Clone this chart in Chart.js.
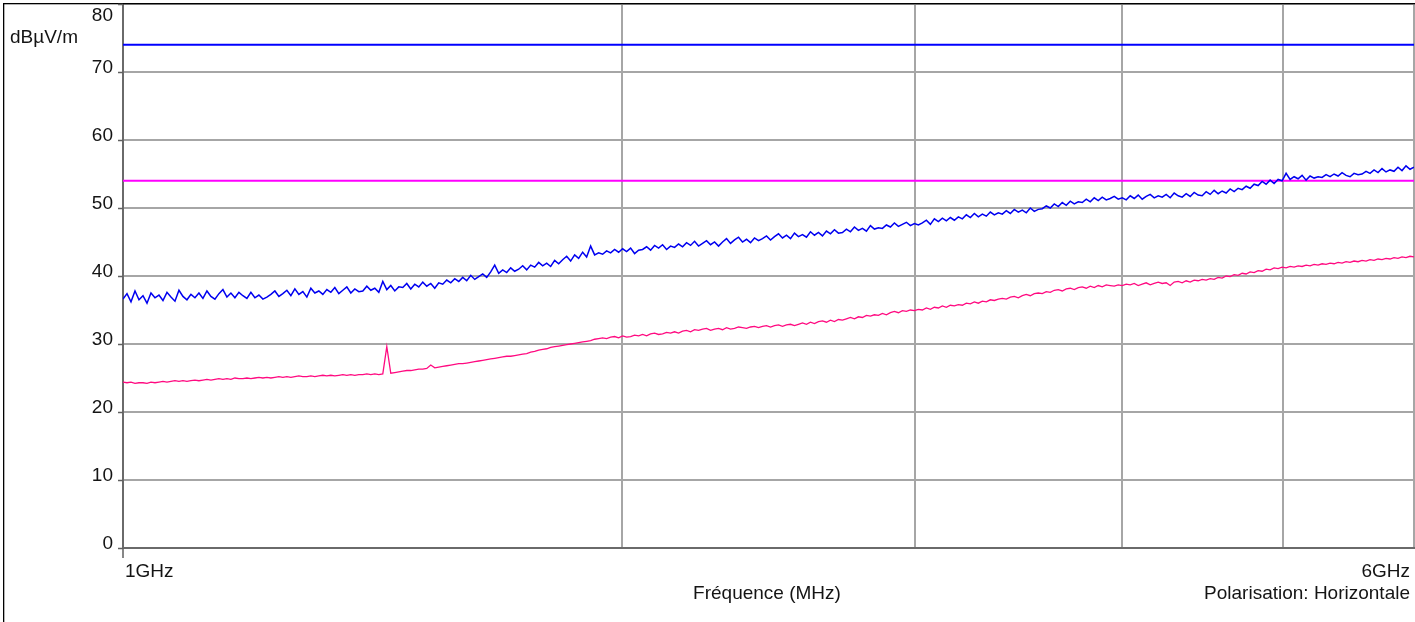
<!DOCTYPE html>
<html>
<head>
<meta charset="utf-8">
<script src="https://cdn.jsdelivr.net/npm/chart.js@4/dist/chart.umd.min.js"></script>
<style>
  html, body { margin: 0; padding: 0; background: #fff; overflow: hidden; }
  #wrap { width: 1415px; height: 622px; position: relative; }
</style>
</head>
<body>
<div id="wrap"><canvas id="mesure"></canvas></div>
<script>
// frequences en MHz
var sweepStart = 1000;
var sweepStop = 6000;
var gridFreqs = [1000, 2000, 3000, 4000, 5000, 6000];
var yTicks = [0, 10, 20, 30, 40, 50, 60, 70, 80];

var limitPeak = 74;
var limitAvg = 54;

// trace crete (bleu), dBuV/m
var peakLevels = [
  36.6, 37.4, 36.2, 37.8, 36.5, 37.1, 36.0, 37.5, 36.8, 37.2,
  36.4, 37.6, 36.9, 36.3, 37.9, 37.0, 36.5, 37.3, 36.8, 37.5,
  36.7, 37.8, 37.0, 36.6, 37.4, 38.0, 36.9, 37.5, 36.8, 37.6,
  37.1, 36.7, 37.6, 36.8, 37.2, 36.6, 36.9, 37.3, 37.8, 37.0,
  37.4, 37.9, 37.1, 38.1, 37.3, 37.7, 36.9, 38.2, 37.5, 37.8,
  37.3, 38.0, 37.6, 38.3, 37.4, 37.9, 38.4, 37.5, 38.1, 37.7,
  37.8, 38.5, 37.9, 38.2, 37.6, 39.2, 38.0, 38.6, 37.8, 38.4,
  38.3, 38.9, 38.1, 38.8, 38.4, 39.1, 38.5, 38.9, 38.2, 39.0,
  38.8, 39.4, 39.0, 39.6, 39.2, 39.8, 39.3, 40.1, 39.5, 39.9,
  40.3, 39.8, 40.6, 41.6, 40.4, 40.9, 40.5, 41.2, 40.7, 41.0,
  41.5, 40.9, 41.6, 41.3, 42.0, 41.5, 41.9, 41.4, 42.3, 41.8,
  42.4, 42.9, 42.2, 43.1, 42.6, 43.5, 42.8, 44.4, 43.1, 43.4,
  43.2, 43.7, 43.4, 43.9, 43.5, 44.0, 43.6, 44.1, 43.3, 43.8,
  43.9, 44.3, 43.8, 44.5, 44.1, 44.6, 43.9, 44.4, 44.2, 44.7,
  44.3, 44.9, 44.5, 45.1, 44.4, 44.8, 45.2, 44.6, 45.0, 44.4,
  45.0, 45.5, 44.8, 45.3, 45.7, 45.0, 45.4, 44.9, 45.6, 45.2,
  45.5, 45.9, 45.3, 45.8, 46.2, 45.6, 46.0, 45.5, 46.3, 45.8,
  46.1, 45.7, 46.5, 46.0, 46.4, 45.9, 46.6, 46.2, 46.8, 46.3,
  46.4, 46.9, 46.5, 47.2, 46.7, 47.0, 46.6, 47.4, 46.9, 47.1,
  47.0, 47.5, 47.2, 47.8, 47.3, 47.6, 47.9, 47.4, 47.7, 47.5,
  47.8, 48.2, 47.6, 48.4, 48.0, 48.5, 48.1, 48.6, 48.2, 48.7,
  48.4, 49.0, 48.6, 49.2, 48.7, 49.1, 48.8, 49.4, 49.0, 49.3,
  49.1, 49.6, 49.2, 49.8, 49.4, 49.7, 49.3, 50.0, 49.5, 49.8,
  49.9, 50.3, 50.0, 50.6, 50.2, 50.8, 50.4, 51.0, 50.6, 50.9,
  50.8, 51.3, 50.9, 51.5, 51.1, 51.6, 51.2, 51.4, 51.7, 51.3,
  51.5, 51.2, 51.8, 51.4, 51.9, 51.3, 51.7, 52.0, 51.5, 51.8,
  51.6, 52.0, 51.5, 52.2, 51.8, 51.6, 52.1, 51.7, 52.3, 51.9,
  51.8, 52.4, 52.0, 52.6, 52.1, 52.5, 52.2, 52.8, 52.4, 52.9,
  52.7, 53.2, 52.9, 53.5, 53.3, 53.9, 53.5, 54.1, 53.6, 54.2,
  54.0, 55.1, 54.2, 54.6, 54.3, 54.8, 54.1, 54.7, 54.4, 54.6,
  54.5, 54.9, 54.6, 55.0, 54.7, 55.2, 54.8, 54.6, 55.1, 54.9,
  55.0, 55.4, 55.1, 55.6, 55.2, 55.8, 55.3, 55.6, 55.4, 56.0,
  55.5, 56.2, 55.7, 56.0
];

// trace moyenne (rose), dBuV/m
var avgLevels = [
  24.4, 24.3, 24.4, 24.2, 24.3, 24.3, 24.2, 24.4, 24.3, 24.4,
  24.5, 24.4, 24.5, 24.6, 24.5, 24.6, 24.5, 24.6, 24.7, 24.6,
  24.7, 24.8, 24.7, 24.8, 24.9, 24.8, 24.9, 24.8, 25.0, 24.9,
  24.9, 25.0, 24.9, 25.0, 25.1, 25.0, 25.1, 25.0, 25.1, 25.2,
  25.1, 25.2, 25.1, 25.2, 25.3, 25.2, 25.2, 25.3, 25.2, 25.3,
  25.4, 25.3, 25.4, 25.3, 25.4, 25.5, 25.4, 25.5, 25.4, 25.5,
  25.5, 25.6, 25.5, 25.6, 25.5, 25.6, 29.6, 25.7, 25.8, 25.9,
  26.0, 26.1, 26.1, 26.2, 26.3, 26.3, 26.4, 26.9, 26.5, 26.6,
  26.7, 26.8, 26.9, 27.0, 27.1, 27.1, 27.2, 27.3, 27.4, 27.5,
  27.6, 27.7, 27.8, 27.9, 28.0, 28.1, 28.2, 28.2, 28.3, 28.4,
  28.5, 28.6, 28.8, 28.9, 29.1, 29.2, 29.3, 29.5, 29.6, 29.7,
  29.8, 29.9, 30.0, 30.1, 30.2, 30.3, 30.4, 30.5, 30.7, 30.8,
  30.9, 30.8, 31.0, 31.1, 30.9, 31.2, 31.0, 31.1, 31.3, 31.2,
  31.4, 31.2, 31.5, 31.6, 31.4, 31.5, 31.7, 31.6, 31.8, 31.6,
  31.9, 32.0, 31.8, 32.1, 32.0, 32.2, 32.3, 32.0, 32.2, 32.3,
  32.1, 32.4, 32.2, 32.3, 32.5, 32.4, 32.3, 32.5, 32.6, 32.4,
  32.6, 32.7, 32.5, 32.7, 32.8, 32.6, 32.8, 32.9, 32.7, 32.9,
  33.1, 32.9, 33.2, 33.0, 33.3, 33.4, 33.2, 33.5, 33.3, 33.6,
  33.5, 33.7, 33.9, 33.7, 34.0, 33.9, 34.2, 34.1, 34.3, 34.2,
  34.5, 34.3, 34.6, 34.8, 34.6, 34.9, 34.8, 35.0, 34.9, 35.1,
  35.0, 35.3, 35.1, 35.4, 35.3, 35.6, 35.4, 35.7, 35.6, 35.8,
  35.7, 36.0, 35.9, 36.2, 36.0, 36.3, 36.2, 36.5, 36.4, 36.6,
  36.7, 36.6, 36.9, 37.0, 36.8, 37.1, 37.3, 37.1, 37.4, 37.5,
  37.4, 37.7, 37.6, 37.9, 38.0, 37.8, 38.1, 38.2, 38.0, 38.3,
  38.4, 38.2, 38.5, 38.3, 38.6, 38.4, 38.7, 38.6, 38.5, 38.7,
  38.6, 38.8, 38.7, 38.9, 38.6, 38.8, 39.0, 38.7, 38.9, 39.1,
  38.9, 39.0, 38.6, 39.1, 39.2, 39.0, 39.3, 39.1, 39.4, 39.3,
  39.5, 39.4, 39.6, 39.5, 39.8, 39.7, 40.0, 39.9, 40.2, 40.1,
  40.4, 40.3, 40.6, 40.5, 40.8, 40.7, 41.0, 40.9, 41.2, 41.1,
  41.3, 41.2, 41.4, 41.3, 41.5, 41.4, 41.6, 41.5, 41.7, 41.6,
  41.8, 41.7, 41.9, 41.8, 42.0, 41.9, 42.1, 42.0, 42.2, 42.1,
  42.3, 42.2, 42.4, 42.3, 42.5, 42.4, 42.6, 42.5, 42.7, 42.6,
  42.8, 42.7, 42.9, 42.8
];

// points de balayage (pas logarithmique entre debut et fin)
var sweepFreqs = peakLevels.map(function(v, i) {
  return sweepStart * Math.pow(sweepStop / sweepStart, i / (peakLevels.length - 1));
});

function toPoints(levels) {
  return levels.map(function(v, i) { return { x: sweepFreqs[i], y: v }; });
}

var FONT = '19px "Liberation Sans", Arial, sans-serif';

var decor = {
  id: 'decor',
  beforeDraw: function(chart) {
    var ctx = chart.ctx;
    ctx.save();
    ctx.fillStyle = '#fff';
    ctx.fillRect(0, 0, chart.width, chart.height);
    ctx.restore();
  },
  afterDraw: function(chart) {
    var ctx = chart.ctx;
    var xs = chart.scales.x, ys = chart.scales.y, area = chart.chartArea;
    ctx.save();

    // cadre
    ctx.fillStyle = '#000';
    ctx.fillRect(3, 3, chart.width - 3, 1.3);
    ctx.fillRect(3, 3, 1.3, chart.height - 3);

    // petits traits de graduation
    ctx.strokeStyle = '#606060';
    ctx.lineWidth = 1.5;
    ctx.beginPath();
    yTicks.forEach(function(t) {
      var py = Math.round(ys.getPixelForValue(t)) + 0.5;
      ctx.moveTo(118, py);
      ctx.lineTo(area.left, py);
    });
    ctx.moveTo(area.left, area.bottom);
    ctx.lineTo(area.left, area.bottom + 10);
    ctx.stroke();

    ctx.font = FONT;
    ctx.fillStyle = '#141414';
    ctx.textBaseline = 'alphabetic';

    ctx.textAlign = 'right';
    yTicks.forEach(function(t) {
      var py = ys.getPixelForValue(t);
      if (t === 80) py += 17; else py += 1;
      ctx.fillText(String(t), 113, py);
    });

    ctx.textAlign = 'left';
    ctx.fillText('dBµV/m', 10, 43);
    ctx.fillText('1GHz', xs.getPixelForValue(1000) + 2, 577);

    ctx.textAlign = 'right';
    ctx.fillText('6GHz', xs.getPixelForValue(6000) - 4, 577);
    ctx.fillText('Polarisation: Horizontale', xs.getPixelForValue(6000) - 4, 599);

    ctx.textAlign = 'center';
    ctx.fillText('Fréquence (MHz)', 767, 599);

    ctx.restore();
  }
};

var ctxMesure = document.getElementById('mesure').getContext('2d');

var chartMesure = new Chart(ctxMesure, {
  type: 'line',
  data: {
    datasets: [
      {
        label: 'Crete',
        data: toPoints(peakLevels),
        borderColor: '#0000f0',
        borderWidth: 1.5
      },
      {
        label: 'Moyenne',
        data: toPoints(avgLevels),
        borderColor: '#ff0a80',
        borderWidth: 1.3
      },
      {
        label: 'Limite crete',
        data: [{ x: sweepStart, y: limitPeak }, { x: sweepStop, y: limitPeak }],
        borderColor: '#0000ff',
        borderWidth: 2
      },
      {
        label: 'Limite moyenne',
        data: [{ x: sweepStart, y: limitAvg }, { x: sweepStop, y: limitAvg }],
        borderColor: '#ff00ff',
        borderWidth: 2
      }
    ]
  },
  options: {
    responsive: true,
    maintainAspectRatio: false,
    animation: false,
    devicePixelRatio: 1,
    events: [],
    layout: { padding: { left: 123, top: 4, right: 1, bottom: 74 } },
    elements: {
      point: { radius: 0 },
      line: { tension: 0 }
    },
    plugins: {
      legend: { display: false },
      tooltip: { enabled: false }
    },
    scales: {
      x: {
        type: 'logarithmic',
        min: sweepStart,
        max: sweepStop,
        afterBuildTicks: function(scale) {
          scale.ticks = gridFreqs.map(function(f) { return { value: f }; });
        },
        ticks: { display: false },
        grid: { color: '#a6a6a6', lineWidth: 2, drawTicks: false },
        border: { display: true, color: '#6a6a6a', width: 2 }
      },
      y: {
        type: 'linear',
        min: 0,
        max: 80,
        ticks: { display: false, stepSize: 10 },
        grid: { color: '#a6a6a6', lineWidth: 2, drawTicks: false },
        border: { display: true, color: '#6a6a6a', width: 2 }
      }
    }
  },
  plugins: [decor]
});
</script>
</body>
</html>
